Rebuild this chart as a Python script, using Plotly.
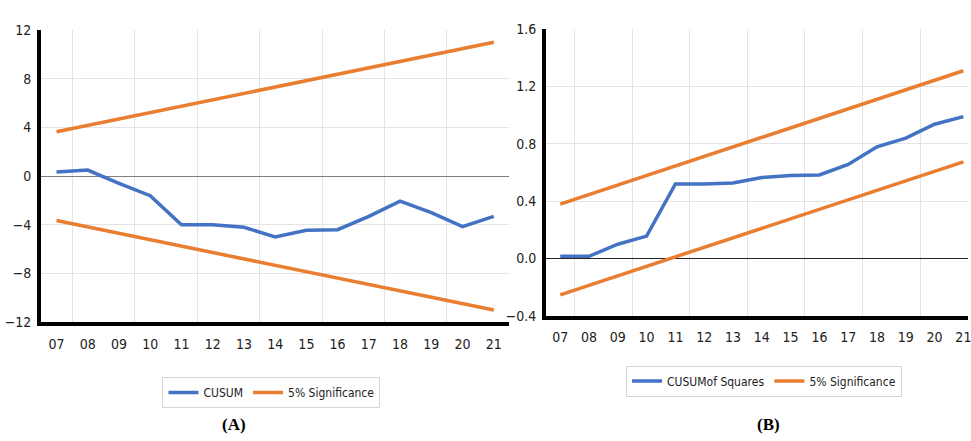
import plotly.graph_objects as go

# Sample years (two-digit labels) shared by both panels
years = ["07", "08", "09", "10", "11", "12", "13", "14", "15", "16", "17", "18", "19", "20", "21"]

# Panel A: CUSUM statistic and its 5% significance bounds (straight lines)
cusum = [0.35, 0.5, -0.6, -1.6, -4.0, -4.0, -4.2, -5.0, -4.45, -4.4, -3.3, -2.05, -3.0, -4.15, -3.3]
bound_years = ["07", "21"]
cusum_upper = [3.65, 11.0]
cusum_lower = [-3.65, -11.0]

# Panel B: CUSUM of squares and its 5% significance bounds
cusumsq = [0.016, 0.016, 0.10, 0.157, 0.52, 0.52, 0.527, 0.565, 0.58, 0.583, 0.657, 0.78, 0.84, 0.937, 0.99]
sq_upper = [0.38, 1.31]
sq_lower = [-0.253, 0.675]

W, H = 971, 441
BLUE = "#4472C4"
ORANGE = "#E97D30"
GRID = "#e4e4e4"
FONT = "Liberation Sans Narrow, DejaVu Sans Condensed, Arial Narrow, sans-serif"
SERIF = "Liberation Serif, Times New Roman, serif"

xi = list(range(len(years)))
bx = [years.index(y) for y in bound_years]

fig = go.Figure()

# ---- Panel A ----
fig.add_trace(go.Scatter(x=xi, y=cusum, mode="lines", name="CUSUM",
                         line=dict(color=BLUE, width=3.5), xaxis="x", yaxis="y",
                         legend="legend"))
fig.add_trace(go.Scatter(x=bx, y=cusum_upper, mode="lines", name="5% Significance",
                         line=dict(color=ORANGE, width=3.5), xaxis="x", yaxis="y",
                         legendgroup="sigA", legend="legend"))
fig.add_trace(go.Scatter(x=bx, y=cusum_lower, mode="lines", name="5% Significance",
                         line=dict(color=ORANGE, width=3.5), xaxis="x", yaxis="y",
                         legendgroup="sigA", showlegend=False, legend="legend"))

# ---- Panel B ----
fig.add_trace(go.Scatter(x=xi, y=cusumsq, mode="lines", name="CUSUMof Squares",
                         line=dict(color=BLUE, width=3.5), xaxis="x2", yaxis="y2",
                         legend="legend2"))
fig.add_trace(go.Scatter(x=bx, y=sq_upper, mode="lines", name="5% Significance",
                         line=dict(color=ORANGE, width=3.5), xaxis="x2", yaxis="y2",
                         legendgroup="sigB", legend="legend2"))
fig.add_trace(go.Scatter(x=bx, y=sq_lower, mode="lines", name="5% Significance",
                         line=dict(color=ORANGE, width=3.5), xaxis="x2", yaxis="y2",
                         legendgroup="sigB", showlegend=False, legend="legend2"))


def xaxis_cfg(domain, rng, anchor):
    return dict(domain=domain, range=rng, anchor=anchor,
                tickmode="array", tickvals=xi, ticktext=years,
                showgrid=False, zeroline=False,
                minor=dict(tickmode="linear", tick0=0.5, dtick=2, showgrid=True,
                           gridcolor=GRID, gridwidth=1),
                showline=True, linecolor="black", linewidth=3.5,
                ticks="", ticklabelstandoff=6, ticklabeloverflow="allow",
                tickfont=dict(family=FONT, size=14, color="#222"))


def yaxis_cfg(domain, rng, dtick, anchor, zc, fmt=None):
    d = dict(domain=domain, range=rng, anchor=anchor, tick0=0, dtick=dtick,
             showgrid=True, gridcolor=GRID, gridwidth=1,
             zeroline=True, zerolinecolor=zc, zerolinewidth=1.2,
             showline=True, linecolor="black", linewidth=3.5,
             ticks="", ticklabelstandoff=3,
             tickfont=dict(family=FONT, size=14, color="#222"))
    if fmt:
        d["tickformat"] = fmt
    return d


legend_common = dict(orientation="h", xanchor="left", yanchor="top",
                     bgcolor="white", bordercolor="#d6d6d6", borderwidth=1,
                     font=dict(family=FONT, size=12, color="#222"),
                     itemwidth=30, traceorder="normal")

fig.update_layout(
    width=W, height=H,
    margin=dict(l=0, r=0, t=0, b=0),
    paper_bgcolor="white", plot_bgcolor="white",
    showlegend=True,
    xaxis=xaxis_cfg([41 / W, 511 / W], [-0.5, 14.5], "y"),
    yaxis=yaxis_cfg([1 - 326 / H, 1 - 23 / H], [-12, 12], 4, "x", "#7f7f7f"),
    xaxis2=xaxis_cfg([547.5 / W, 1.0], [-0.5, 14.16], "y2"),
    yaxis2=yaxis_cfg([1 - 319.5 / H, 1 - 22 / H], [-0.4, 1.6], 0.4, "x2", "#222", ".1f"),
    legend=dict(x=163 / W, y=1 - 383 / H, **legend_common),
    legend2=dict(x=628 / W, y=1 - 371 / H, **legend_common),
    annotations=[
        dict(text="<b>(A)</b>", x=235 / W, y=1 - 432 / H, xref="paper", yref="paper",
             showarrow=False, xanchor="center", yanchor="middle",
             font=dict(family=SERIF, size=17, color="black")),
        dict(text="<b>(B)</b>", x=771 / W, y=1 - 432 / H, xref="paper", yref="paper",
             showarrow=False, xanchor="center", yanchor="middle",
             font=dict(family=SERIF, size=17, color="black")),
    ],
)

fig.write_html("out.html")
